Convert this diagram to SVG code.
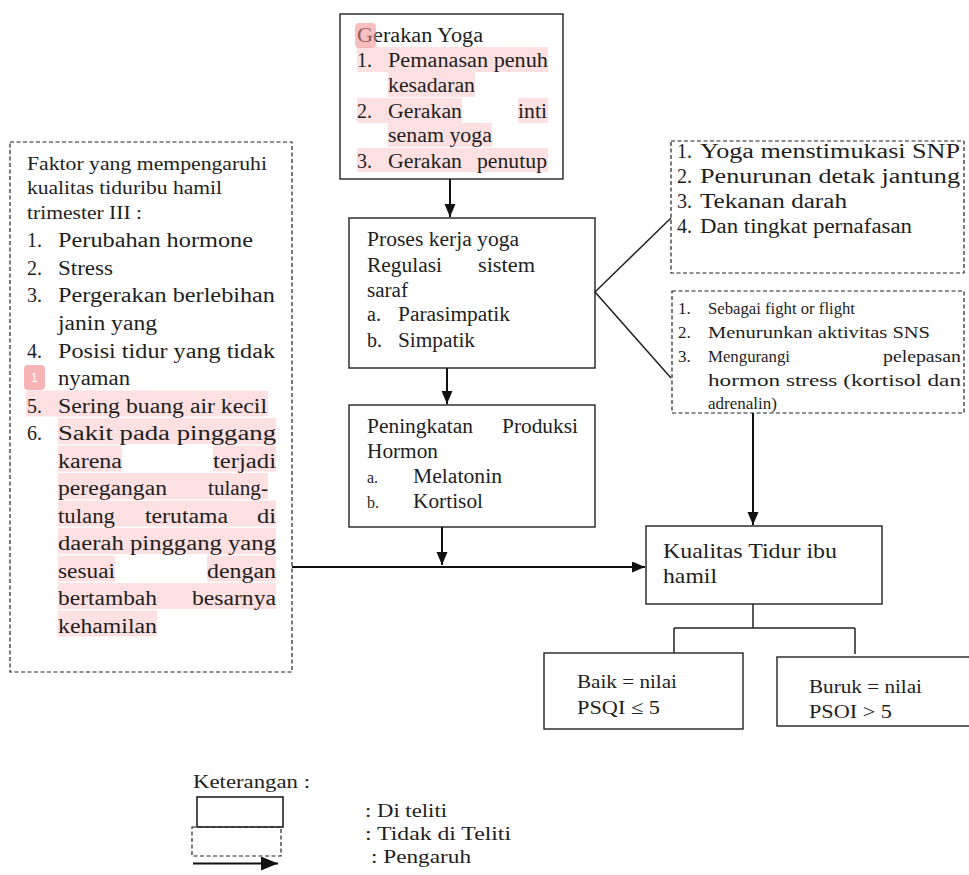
<svg xmlns="http://www.w3.org/2000/svg" width="969" height="875" viewBox="0 0 969 875">
<style>
.t{font-family:"Liberation Serif","Times New Roman",serif;fill:#1e1e1e}
.f16{font-size:16px}.f17{font-size:17px}.f19{font-size:19px}.f20{font-size:20px}.f21{font-size:21px}.f22{font-size:22px}
.hl{fill:#fde0e1}
.box{fill:#fff;stroke:#222;stroke-width:1.4}
.dbox{fill:#fff;stroke:#222;stroke-width:1.2;stroke-dasharray:4 2.5}
.conn{stroke:#111;stroke-width:2;fill:none}
.thin{stroke:#222;stroke-width:1.5;fill:none}
.badge{fill:#f08a8a}
.bt{font-family:"Liberation Sans",Arial,sans-serif;font-size:12px;fill:#fff}
</style>
<defs>
<marker id="ah" markerUnits="userSpaceOnUse" markerWidth="14" markerHeight="12" refX="13" refY="5.5" orient="auto">
<path d="M0,0 L13,5.5 L0,11 z" fill="#111"/>
</marker>
<marker id="ahL" markerUnits="userSpaceOnUse" markerWidth="18" markerHeight="16" refX="17" refY="7" orient="auto">
<path d="M0,0 L17,7 L0,14 z" fill="#111"/>
</marker>
</defs>
<rect width="969" height="875" fill="#fff"/>

<g id="gerakan-yoga">
<rect class="box" x="340" y="14" width="223" height="165"/>
<rect class="hl" x="357" y="47" width="191" height="25"/>
<rect class="hl" x="388" y="72" width="87" height="25"/>
<rect class="hl" x="357" y="98" width="105" height="25"/>
<rect class="hl" x="518" y="98" width="30" height="25"/>
<rect class="hl" x="388" y="123" width="104" height="24"/>
<rect class="hl" x="357" y="148" width="191" height="24"/>
<text class="t f20" x="357" y="42" textLength="126" lengthAdjust="spacingAndGlyphs">Gerakan Yoga</text>
<rect class="badge" x="355" y="23" width="21" height="25" rx="4" opacity="0.55"/>
<text class="t f20" x="357" y="67">1.</text>
<text class="t f20" x="388" y="67" textLength="160" lengthAdjust="spacingAndGlyphs">Pemanasan penuh</text>
<text class="t f20" x="388" y="92" textLength="87" lengthAdjust="spacingAndGlyphs">kesadaran</text>
<text class="t f20" x="357" y="118">2.</text>
<text class="t f20" x="388" y="118" textLength="74" lengthAdjust="spacingAndGlyphs">Gerakan</text>
<text class="t f20" x="518" y="118" textLength="29" lengthAdjust="spacingAndGlyphs">inti</text>
<text class="t f20" x="388" y="142" textLength="104" lengthAdjust="spacingAndGlyphs">senam yoga</text>
<text class="t f20" x="357" y="168">3.</text>
<text class="t f20" x="388" y="168" textLength="74" lengthAdjust="spacingAndGlyphs">Gerakan</text>
<text class="t f20" x="477" y="168" textLength="70" lengthAdjust="spacingAndGlyphs">penutup</text>
</g>

<g id="faktor">
<rect class="dbox" x="10" y="142" width="282" height="530"/>
<rect class="hl" x="26" y="390.5" width="242" height="26"/>
<rect class="hl" x="58" y="418" width="218" height="26"/>
<rect class="hl" x="58" y="445.5" width="64" height="26"/>
<rect class="hl" x="213" y="445.5" width="63" height="26"/>
<rect class="hl" x="58" y="473" width="210" height="26"/>
<rect class="hl" x="58" y="500.5" width="218" height="26"/>
<rect class="hl" x="58" y="528" width="218" height="26"/>
<rect class="hl" x="58" y="555.5" width="57" height="26"/>
<rect class="hl" x="207" y="555.5" width="69" height="26"/>
<rect class="hl" x="58" y="583" width="218" height="26"/>
<rect class="hl" x="58" y="610.5" width="99" height="26"/>
<text class="t f19" x="27" y="170" textLength="240" lengthAdjust="spacingAndGlyphs">Faktor yang mempengaruhi</text>
<text class="t f19" x="27" y="194" textLength="195" lengthAdjust="spacingAndGlyphs">kualitas tiduribu hamil</text>
<text class="t f19" x="27" y="219" textLength="115" lengthAdjust="spacingAndGlyphs">trimester III :</text>
<text class="t f20" x="27" y="247">1.</text>
<text class="t f20" x="58" y="247" textLength="195" lengthAdjust="spacingAndGlyphs">Perubahan  hormone</text>
<text class="t f20" x="27" y="274.5">2.</text>
<text class="t f20" x="58" y="274.5" textLength="55" lengthAdjust="spacingAndGlyphs">Stress</text>
<text class="t f20" x="27" y="302">3.</text>
<text class="t f20" x="58" y="302" textLength="217" lengthAdjust="spacingAndGlyphs">Pergerakan berlebihan</text>
<text class="t f20" x="58" y="330" textLength="99" lengthAdjust="spacingAndGlyphs">janin yang</text>
<text class="t f20" x="27" y="357.5">4.</text>
<text class="t f20" x="58" y="357.5" textLength="217" lengthAdjust="spacingAndGlyphs">Posisi tidur yang tidak</text>
<rect x="24" y="365" width="21" height="25" rx="4" fill="#f8b4b4"/>
<text class="bt" x="31" y="382">1</text>
<text class="t f20" x="58" y="385" textLength="72" lengthAdjust="spacingAndGlyphs">nyaman</text>
<text class="t f20" x="27" y="412.5">5.</text>
<text class="t f20" x="58" y="412.5" textLength="209" lengthAdjust="spacingAndGlyphs">Sering buang air kecil</text>
<text class="t f20" x="27" y="440">6.</text>
<text class="t f20" x="58" y="440" textLength="218" lengthAdjust="spacingAndGlyphs">Sakit pada pinggang</text>
<text class="t f20" x="58" y="467.5" textLength="64" lengthAdjust="spacingAndGlyphs">karena</text>
<text class="t f20" x="213" y="467.5" textLength="63" lengthAdjust="spacingAndGlyphs">terjadi</text>
<text class="t f20" x="58" y="495" textLength="109" lengthAdjust="spacingAndGlyphs">peregangan</text>
<text class="t f20" x="208" y="495" textLength="60" lengthAdjust="spacingAndGlyphs">tulang-</text>
<text class="t f20" x="58" y="522.5" textLength="57" lengthAdjust="spacingAndGlyphs">tulang</text>
<text class="t f20" x="145" y="522.5" textLength="83" lengthAdjust="spacingAndGlyphs">terutama</text>
<text class="t f20" x="257" y="522.5" textLength="19" lengthAdjust="spacingAndGlyphs">di</text>
<text class="t f20" x="58" y="550" textLength="218" lengthAdjust="spacingAndGlyphs">daerah pinggang yang</text>
<text class="t f20" x="58" y="577.5" textLength="57" lengthAdjust="spacingAndGlyphs">sesuai</text>
<text class="t f20" x="207" y="577.5" textLength="69" lengthAdjust="spacingAndGlyphs">dengan</text>
<text class="t f20" x="58" y="605" textLength="99" lengthAdjust="spacingAndGlyphs">bertambah</text>
<text class="t f20" x="192" y="605" textLength="84" lengthAdjust="spacingAndGlyphs">besarnya</text>
<text class="t f20" x="58" y="632.5" textLength="99" lengthAdjust="spacingAndGlyphs">kehamilan</text>
</g>

<g id="proses">
<rect class="box" x="349" y="218" width="246" height="150"/>
<text class="t f20" x="367" y="246" textLength="152" lengthAdjust="spacingAndGlyphs">Proses kerja yoga</text>
<text class="t f20" x="367" y="271.5" textLength="75" lengthAdjust="spacingAndGlyphs">Regulasi</text>
<text class="t f20" x="478" y="271.5" textLength="57" lengthAdjust="spacingAndGlyphs">sistem</text>
<text class="t f20" x="367" y="296.5" textLength="41" lengthAdjust="spacingAndGlyphs">saraf</text>
<text class="t f20" x="367" y="321">a.</text>
<text class="t f20" x="398" y="321" textLength="112" lengthAdjust="spacingAndGlyphs">Parasimpatik</text>
<text class="t f20" x="367" y="346.5">b.</text>
<text class="t f20" x="398" y="346.5" textLength="77" lengthAdjust="spacingAndGlyphs">Simpatik</text>
</g>

<g id="peningkatan">
<rect class="box" x="349" y="405" width="246" height="122"/>
<text class="t f20" x="367" y="433" textLength="106" lengthAdjust="spacingAndGlyphs">Peningkatan</text>
<text class="t f20" x="502" y="433" textLength="76" lengthAdjust="spacingAndGlyphs">Produksi</text>
<text class="t f20" x="367" y="458" textLength="71" lengthAdjust="spacingAndGlyphs">Hormon</text>
<text class="t f16" x="367" y="483">a.</text>
<text class="t f20" x="413" y="483" textLength="89" lengthAdjust="spacingAndGlyphs">Melatonin</text>
<text class="t f16" x="367" y="508">b.</text>
<text class="t f20" x="413" y="508" textLength="70" lengthAdjust="spacingAndGlyphs">Kortisol</text>
</g>

<g id="snp">
<rect class="dbox" x="671" y="141" width="293" height="132"/>
<text class="t f20" x="677" y="158">1.</text>
<text class="t f20" x="700" y="158" textLength="260" lengthAdjust="spacingAndGlyphs">Yoga menstimukasi SNP</text>
<text class="t f20" x="677" y="183">2.</text>
<text class="t f20" x="700" y="183" textLength="260" lengthAdjust="spacingAndGlyphs">Penurunan detak jantung</text>
<text class="t f20" x="677" y="208">3.</text>
<text class="t f20" x="700" y="208" textLength="147" lengthAdjust="spacingAndGlyphs">Tekanan darah</text>
<text class="t f20" x="677" y="233">4.</text>
<text class="t f20" x="700" y="233" textLength="212" lengthAdjust="spacingAndGlyphs">Dan tingkat pernafasan</text>
</g>

<g id="sns">
<rect class="dbox" x="672" y="291" width="292" height="122"/>
<text class="t f17" x="678" y="314">1.</text>
<text class="t f17" x="708" y="314" textLength="147" lengthAdjust="spacingAndGlyphs">Sebagai fight or flight</text>
<text class="t f17" x="678" y="338">2.</text>
<text class="t f17" x="708" y="338" textLength="222" lengthAdjust="spacingAndGlyphs">Menurunkan aktivitas SNS</text>
<text class="t f17" x="678" y="362">3.</text>
<text class="t f17" x="708" y="362" textLength="82" lengthAdjust="spacingAndGlyphs">Mengurangi</text>
<text class="t f17" x="883" y="362" textLength="78" lengthAdjust="spacingAndGlyphs">pelepasan</text>
<text class="t f17" x="708" y="386" textLength="253" lengthAdjust="spacingAndGlyphs">hormon stress (kortisol dan</text>
<text class="t f17" x="708" y="409" textLength="69" lengthAdjust="spacingAndGlyphs">adrenalin)</text>
</g>

<g id="kualitas">
<rect class="box" x="646" y="526" width="236" height="78"/>
<text class="t f22" x="663" y="558" textLength="174" lengthAdjust="spacingAndGlyphs">Kualitas Tidur ibu</text>
<text class="t f22" x="663" y="583" textLength="54" lengthAdjust="spacingAndGlyphs">hamil</text>
</g>

<g id="baik">
<rect class="box" x="544" y="653" width="199" height="76"/>
<text class="t f19" x="577" y="688" textLength="100" lengthAdjust="spacingAndGlyphs">Baik = nilai</text>
<text class="t f19" x="577" y="714" textLength="83" lengthAdjust="spacingAndGlyphs">PSQI ≤ 5</text>
</g>

<g id="buruk">
<rect class="box" x="777" y="657" width="200" height="69"/>
<text class="t f19" x="809" y="693" textLength="113" lengthAdjust="spacingAndGlyphs">Buruk = nilai</text>
<text class="t f19" x="809" y="718" textLength="83" lengthAdjust="spacingAndGlyphs">PSOI &gt; 5</text>
</g>

<g id="connectors">
<line class="conn" x1="450" y1="179" x2="450" y2="217" marker-end="url(#ah)"/>
<line class="conn" x1="447" y1="368" x2="447" y2="404" marker-end="url(#ah)"/>
<line class="conn" x1="442" y1="527" x2="442" y2="565" marker-end="url(#ah)"/>
<line class="conn" x1="292" y1="567" x2="645" y2="567" marker-end="url(#ah)"/>
<line class="conn" x1="753" y1="413" x2="753" y2="525" marker-end="url(#ah)"/>
<polyline class="thin" points="671,218 595,292 671,378"/>
<line class="thin" x1="753" y1="604" x2="753" y2="628"/>
<line class="thin" x1="674" y1="628" x2="855" y2="628"/>
<line class="thin" x1="674" y1="628" x2="674" y2="653"/>
<line class="thin" x1="855" y1="628" x2="855" y2="654"/>
</g>

<g id="legend">
<text class="t f19" x="193" y="788" textLength="117" lengthAdjust="spacingAndGlyphs">Keterangan :</text>
<rect class="dbox" x="192" y="827" width="89" height="29"/>
<rect x="197" y="797" width="86" height="30" style="fill:none;stroke:#222;stroke-width:1.6"/>
<line class="conn" x1="193" y1="863.5" x2="278" y2="863.5" marker-end="url(#ahL)"/>
<text class="t f19" x="365" y="817" textLength="82" lengthAdjust="spacingAndGlyphs">: Di teliti</text>
<text class="t f19" x="365" y="840" textLength="146" lengthAdjust="spacingAndGlyphs">: Tidak di Teliti</text>
<text class="t f19" x="371" y="863" textLength="100" lengthAdjust="spacingAndGlyphs">: Pengaruh</text>
</g>
</svg>
